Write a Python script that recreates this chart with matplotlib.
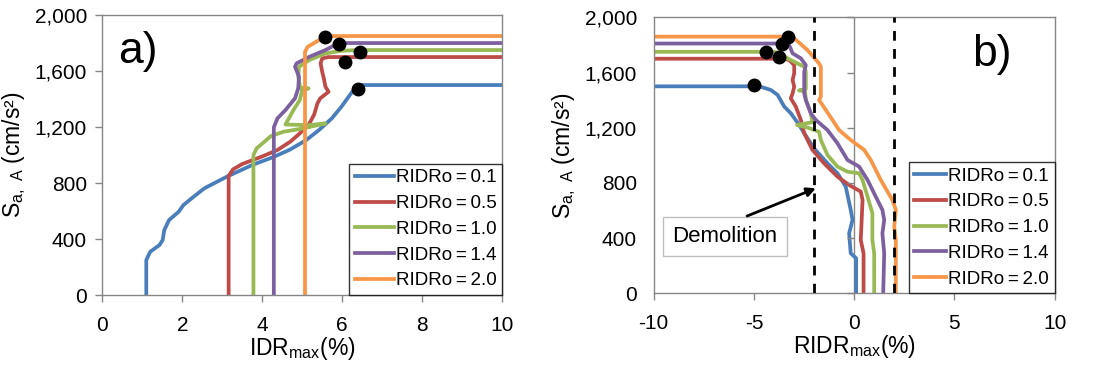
import numpy as np
import matplotlib.pyplot as plt
from matplotlib.ticker import FuncFormatter

plt.rcParams['font.family'] = ['Liberation Sans', 'DejaVu Sans']
plt.rcParams['mathtext.fontset'] = 'custom'
plt.rcParams['mathtext.rm'] = 'Liberation Sans'
plt.rcParams['axes.unicode_minus'] = False

labels = ['RIDRo\u2009=\u20090.1', 'RIDRo\u2009=\u20090.5', 'RIDRo\u2009=\u20091.0', 'RIDRo\u2009=\u20091.4', 'RIDRo\u2009=\u20092.0']
colors = ['#4A7EBB', '#BE4B48', '#98B954', '#7D60A0', '#F79646']

# panel a) IDRmax vs Sa
idr_01 = [1.10, 1.10, 1.20, 1.43, 1.51, 1.55, 1.67, 1.91, 2.03, 2.23, 2.55, 3.11, 3.75, 4.30, 4.70, 5.10, 5.42, 5.74, 5.98, 6.25, 6.37, 6.45, 10]
sa_a_01 = [0, 250, 310, 357, 393, 464, 536, 595, 643, 690, 762, 845, 929, 988, 1040, 1107, 1179, 1262, 1345, 1452, 1483, 1500, 1500]
idr_05 = [3.16, 3.16, 3.27, 3.50, 3.98, 4.38, 4.70, 4.94, 5.18, 5.30, 5.38, 5.45, 5.66, 5.58, 5.54, 5.50, 5.46, 5.50, 5.65, 10]
sa_a_05 = [0, 850, 898, 936, 988, 1036, 1095, 1155, 1226, 1290, 1369, 1405, 1452, 1488, 1548, 1595, 1655, 1690, 1700, 1700]
idr_10 = [3.78, 3.78, 3.86, 4.22, 4.54, 5.02, 5.58, 5.18, 4.58, 4.78, 4.94, 5.00, 5.16, 4.95, 4.90, 4.92, 5.18, 5.58, 5.98, 6.40, 10]
sa_a_10 = [0, 1000, 1048, 1136, 1167, 1190, 1226, 1214, 1218, 1321, 1393, 1464, 1476, 1480, 1560, 1631, 1679, 1726, 1745, 1750, 1750]
idr_14 = [4.29, 4.29, 4.38, 4.58, 4.82, 4.90, 4.92, 4.82, 4.86, 5.18, 5.58, 5.82, 6.00, 10]
sa_a_14 = [0, 1198, 1262, 1321, 1405, 1476, 1560, 1631, 1655, 1702, 1750, 1786, 1800, 1800]
idr_20 = [5.07, 5.07, 5.14, 5.42, 5.54, 5.70, 10]
sa_a_20 = [0, 1738, 1774, 1821, 1845, 1850, 1850]
dots_a_x = [6.39, 6.08, 6.44, 5.91, 5.56]
dots_a_y = [1474, 1662, 1733, 1793, 1843]

# panel b) RIDRmax vs Sa
ridr_01 = [-10, -5.00, -4.65, -4.16, -3.82, -3.49, -3.16, -2.74, -2.49, -2.16, -2.00, -1.33, -0.83, -0.42, -0.17, -0.08, -0.25, -0.17, 0.10, 0.10]
sa_b_01 = [1500, 1500, 1496, 1474, 1438, 1354, 1305, 1220, 1160, 1087, 1050, 942, 870, 773, 604, 532, 435, 290, 254, 0]
ridr_05 = [-10, -3.50, -3.24, -2.99, -2.99, -3.07, -2.99, -3.07, -3.16, -2.91, -2.66, -2.49, -2.08, -1.50, -0.83, -0.25, 0.33, 0.42, 0.33, 0.47, 0.47]
sa_b_05 = [1700, 1700, 1690, 1654, 1594, 1546, 1497, 1449, 1413, 1353, 1256, 1160, 1039, 942, 845, 785, 737, 676, 386, 290, 0]
ridr_10 = [-10, -4.00, -3.66, -3.32, -2.83, -2.49, -2.41, -2.41, -2.75, -2.45, -2.41, -2.16, -2.08, -2.85, -2.30, -1.75, -1.66, -1.33, -0.83, -0.33, 0.25, 0.42, 0.67, 0.91, 0.91, 1.00, 1.00]
sa_b_10 = [1750, 1750, 1739, 1703, 1666, 1642, 1606, 1480, 1470, 1465, 1401, 1304, 1240, 1220, 1200, 1170, 1111, 1002, 918, 881, 870, 821, 700, 580, 386, 290, 0]
ridr_14 = [-10, -3.50, -3.24, -3.07, -2.66, -2.41, -2.49, -2.49, -2.41, -2.16, -1.91, -1.33, -0.83, -0.33, 0.25, 0.67, 1.08, 1.41, 1.50, 1.41, 1.50, 1.45]
sa_b_14 = [1810, 1810, 1799, 1739, 1703, 1654, 1606, 1449, 1401, 1304, 1256, 1183, 1087, 966, 918, 821, 700, 604, 531, 435, 290, 0]
ridr_20 = [-10, -3.20, -2.99, -2.33, -1.75, -1.66, -1.66, -1.75, -1.41, -1.08, -0.75, -0.17, 0.50, 0.83, 1.33, 1.91, 2.08, 2.00, 2.08, 2.08]
sa_b_20 = [1860, 1860, 1848, 1763, 1666, 1642, 1425, 1401, 1328, 1256, 1183, 1111, 1039, 966, 821, 676, 604, 483, 386, 0]
dots_b_x = [-5.02, -3.77, -4.42, -3.62, -3.30]
dots_b_y = [1512, 1710, 1750, 1810, 1858]

demolition_limits = [-2, 2]

series_a = [(idr_01, sa_a_01), (idr_05, sa_a_05), (idr_10, sa_a_10), (idr_14, sa_a_14), (idr_20, sa_a_20)]
series_b = [(ridr_01, sa_b_01), (ridr_05, sa_b_05), (ridr_10, sa_b_10), (ridr_14, sa_b_14), (ridr_20, sa_b_20)]

fig = plt.figure(figsize=(10.94, 3.67), dpi=100)
ax1 = fig.add_axes([0.0935, 0.196, 0.3655, 0.763])
ax2 = fig.add_axes([0.5975, 0.2008, 0.3665, 0.752])

yfmt = FuncFormatter(lambda v, p: '{:,.0f}'.format(v))

for ax in (ax1, ax2):
    for s in ax.spines.values():
        s.set_color('#868686')
        s.set_linewidth(1.0)
    ax.set_ylim(0, 2000)
    ax.set_yticks(np.arange(0, 2001, 400))
    ax.yaxis.set_major_formatter(yfmt)
    ax.tick_params(labelsize=15, color='#868686', length=5, width=1)
    ax.tick_params(axis='x', pad=10)
    ax.set_ylabel('S$_{\\mathrm{a,\\ A}}$ (cm/s²)', fontsize=16.5, labelpad=5)

# a)
for (x, y), c, lab in zip(series_a, colors, labels):
    ax1.plot(x, y, color=c, lw=2.7, label=lab, solid_joinstyle='round')
ax1.plot(dots_a_x, dots_a_y, 'o', color='black', ms=9, zorder=5)
ax1.set_xlim(0, 10)
ax1.set_xticks(np.arange(0, 11, 2))
ax1.tick_params(axis='y', pad=6)
ax1.set_xlabel('IDR$_{\\mathrm{max}}$(%)', fontsize=16.5, labelpad=0)
ax1.text(0.4, 1740, 'a)', fontsize=32, va='center', ha='left')
leg = ax1.legend(loc='lower right', fontsize=13.5, frameon=True, fancybox=False, borderaxespad=0,
                 handlelength=2.1, handletextpad=0.1, labelspacing=0.46, borderpad=0.3)
leg.get_frame().set_edgecolor('black')
leg.get_frame().set_linewidth(1.0)

# b)
for (x, y), c, lab in zip(series_b, colors, labels):
    ax2.plot(x, y, color=c, lw=2.7, label=lab, solid_joinstyle='round')
ax2.plot(dots_b_x, dots_b_y, 'o', color='black', ms=9, zorder=5)
for xd in demolition_limits:
    ax2.axvline(xd, color='black', lw=2, ls=(0, (3.5, 3)), zorder=4)
ax2.set_xlim(-10, 10)
ax2.set_xticks(np.arange(-10, 11, 5))
ax2.set_xlabel('RIDR$_{\\mathrm{max}}$(%)', fontsize=16.5, labelpad=0)
# vertical axis crossing at zero
ax2.axvline(0, color='#868686', lw=1, zorder=0)
ax2.tick_params(axis='y', length=0, pad=12)
ax2.plot(np.zeros(6), np.arange(0, 2001, 400), ls='none', marker=0, ms=5, mew=1, color='#868686', clip_on=False)
ax2.text(6.85, 1730, 'b)', fontsize=32, va='center', ha='center')
ax2.text(-6.45, 411, 'Demolition', fontsize=16, ha='center', va='center',
         bbox=dict(boxstyle='square,pad=0.42', fc='white', ec='#BFBFBF'))
ax2.annotate('', xy=(-1.91, 761), xytext=(-5.34, 560),
             arrowprops=dict(arrowstyle='-|>', color='black', lw=2, shrinkA=0, shrinkB=0, mutation_scale=13))
leg2 = ax2.legend(loc='lower right', fontsize=13.5, frameon=True, fancybox=False, borderaxespad=0,
                  handlelength=1.7, handletextpad=0.1, labelspacing=0.46, borderpad=0.3)
leg2.get_frame().set_edgecolor('black')
leg2.get_frame().set_linewidth(1.0)

fig.savefig('out.png', dpi=100)
